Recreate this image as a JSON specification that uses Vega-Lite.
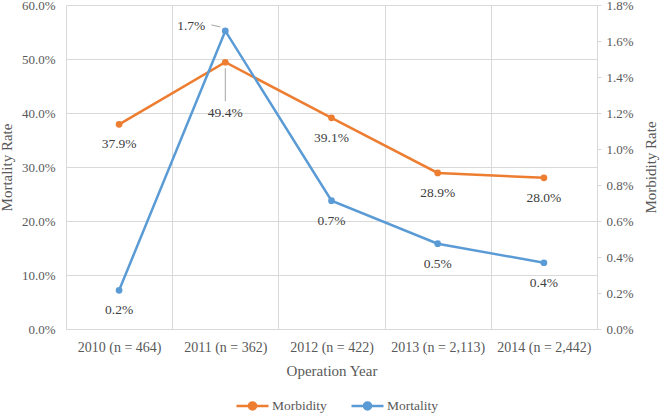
{
  "$schema": "https://vega.github.io/schema/vega-lite/v6.json",
  "width": 531,
  "height": 324,
  "autosize": {"type": "none"},
  "padding": {"left": 66, "top": 5, "right": 63, "bottom": 84},
  "background": "white",
  "config": {
    "view": {"stroke": null},
    "font": "Liberation Serif, Times New Roman, DejaVu Serif, serif",
    "axis": {
      "labelFont": "Liberation Serif, Times New Roman, DejaVu Serif, serif",
      "titleFont": "Liberation Serif, Times New Roman, DejaVu Serif, serif",
      "labelFontSize": 13,
      "titleFontSize": 15,
      "labelColor": "#595959",
      "titleColor": "#595959",
      "titleFontWeight": "normal",
      "gridColor": "#D9D9D9",
      "gridWidth": 1,
      "domainColor": "#D9D9D9",
      "tickColor": "#D9D9D9"
    },
    "legend": {
      "labelFont": "Liberation Serif, Times New Roman, DejaVu Serif, serif",
      "labelFontSize": 13.5,
      "labelColor": "#595959"
    },
    "text": {"font": "Liberation Serif, Times New Roman, DejaVu Serif, serif"}
  },
  "data": {
    "values": [
      {"Year": "2010 (n = 464)", "Morbidity": 0.379, "Mortality": 0.00215},
      {"Year": "2011 (n = 362)", "Morbidity": 0.494, "Mortality": 0.01656},
      {"Year": "2012 (n = 422)", "Morbidity": 0.391, "Mortality": 0.00713},
      {"Year": "2013 (n = 2,113)", "Morbidity": 0.289, "Mortality": 0.00474},
      {"Year": "2014 (n = 2,442)", "Morbidity": 0.280, "Mortality": 0.00368}
    ]
  },
  "encoding": {
    "x": {
      "field": "Year",
      "type": "nominal",
      "sort": null,
      "bandPosition": 0.5,
      "scale": {"type": "band", "paddingInner": 0, "paddingOuter": 0},
      "axis": {
        "title": "Operation Year",
        "labelAngle": 0,
        "labelFontSize": 14,
        "ticks": false,
        "tickBand": "extent",
        "grid": true,
        "labelPadding": 11,
        "titlePadding": 9,
        "domain": true
      }
    }
  },
  "layer": [
    {
      "encoding": {
        "y": {
          "field": "Morbidity",
          "type": "quantitative",
          "scale": {"domain": [0, 0.6], "nice": false},
          "axis": {
            "title": "Mortality Rate",
            "orient": "left",
            "values": [0, 0.1, 0.2, 0.3, 0.4, 0.5, 0.6],
            "format": ".1%",
            "grid": true,
            "ticks": false,
            "domain": false,
            "labelPadding": 11,
            "titlePadding": 7
          }
        }
      },
      "layer": [
        {
          "mark": {"type": "line", "strokeWidth": 2.5, "point": {"size": 45, "filled": true}},
          "encoding": {
            "color": {
              "datum": "Morbidity",
              "type": "nominal",
              "scale": {"domain": ["Morbidity", "Mortality"], "range": ["#ED7D31", "#5B9BD5"]},
              "legend": {
                "title": null,
                "orient": "none",
                "direction": "horizontal",
                "legendX": 169,
                "legendY": 383,
                "symbolType": "M-1,0L1,0M0.22,0A0.22,0.22 0 1,1 -0.22,0A0.22,0.22 0 1,1 0.22,0",
                "symbolSize": 1024,
                "symbolStrokeWidth": 2.5,
                "labelOffset": 2,
                "columnPadding": 19,
                "encode": {
                  "symbols": {
                    "update": {
                      "fill": {"scale": "color", "field": "value"},
                      "stroke": {"scale": "color", "field": "value"},
                      "fillOpacity": {"value": 1}
                    }
                  }
                }
              }
            }
          }
        },
        {
          "transform": [{"filter": "datum.Year !== '2011 (n = 362)'"}],
          "mark": {"type": "text", "dy": 20, "fontSize": 13.5, "color": "#404040"},
          "encoding": {"text": {"field": "Morbidity", "type": "quantitative", "format": ".1%"}}
        },
        {
          "transform": [{"filter": "datum.Year === '2011 (n = 362)'"}],
          "mark": {"type": "text", "dy": 51, "fontSize": 13.5, "color": "#404040"},
          "encoding": {"text": {"field": "Morbidity", "type": "quantitative", "format": ".1%"}}
        },
        {
          "transform": [{"filter": "datum.Year === '2011 (n = 362)'"}],
          "mark": {"type": "rule", "color": "#A6A6A6", "strokeWidth": 1, "yOffset": 6, "y2Offset": 39},
          "encoding": {"y2": {"field": "Morbidity"}}
        }
      ]
    },
    {
      "encoding": {
        "y": {
          "field": "Mortality",
          "type": "quantitative",
          "scale": {"domain": [0, 0.018], "nice": false},
          "axis": {
            "title": "Morbidity Rate",
            "orient": "right",
            "titleAngle": 270,
            "titleX": 53,
            "titleY": 162,
            "titleAlign": "center",
            "titleBaseline": "middle",
            "values": [0, 0.002, 0.004, 0.006, 0.008, 0.01, 0.012, 0.014, 0.016, 0.018],
            "format": ".1%",
            "grid": false,
            "ticks": true,
            "tickSize": 4,
            "domain": true,
            "labelPadding": 5
          }
        }
      },
      "layer": [
        {
          "mark": {"type": "line", "strokeWidth": 2.5, "point": {"size": 45, "filled": true}},
          "encoding": {
            "color": {"datum": "Mortality", "type": "nominal"}
          }
        },
        {
          "transform": [{"filter": "datum.Year !== '2011 (n = 362)'"}],
          "mark": {"type": "text", "dy": 20, "fontSize": 13.5, "color": "#404040"},
          "encoding": {"text": {"field": "Mortality", "type": "quantitative", "format": ".1%"}}
        },
        {
          "transform": [{"filter": "datum.Year === '2011 (n = 362)'"}],
          "mark": {"type": "text", "dx": -34, "dy": -5, "fontSize": 13.5, "color": "#404040"},
          "encoding": {"text": {"field": "Mortality", "type": "quantitative", "format": ".1%"}}
        },
        {
          "transform": [{"filter": "datum.Year === '2011 (n = 362)'"}],
          "mark": {"type": "rule", "color": "#A6A6A6", "strokeWidth": 1, "xOffset": -14, "x2Offset": -5, "yOffset": -6, "y2Offset": -4},
          "encoding": {"x2": {"field": "Year"}, "y2": {"field": "Mortality"}}
        }
      ]
    }
  ],
  "resolve": {"scale": {"y": "independent"}}
}
